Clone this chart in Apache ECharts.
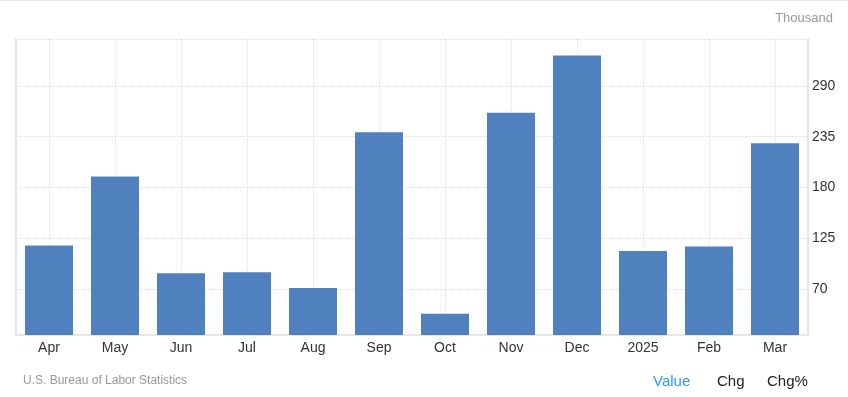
<!DOCTYPE html>
<html>
<head>
<meta charset="utf-8">
<script src="https://cdn.jsdelivr.net/npm/echarts@6/dist/echarts.min.js"></script>
<style>
    html, body { margin: 0; padding: 0; background: #fff; }
    #main { width: 848px; height: 397px; }
</style>
</head>
<body>
<div id="main"></div>
<script>
// months (Apr 2024 - Mar 2025), values in thousand
var months = ['Apr', 'May', 'Jun', 'Jul', 'Aug', 'Sep', 'Oct', 'Nov', 'Dec', '2025', 'Feb', 'Mar'];
var payrolls = [117, 192, 87, 88, 71, 240, 43, 261, 323, 111, 116, 228];
var yTicks = [70, 125, 180, 235, 290];
var yMin = 20;
var yMax = 341;

var font = '"Liberation Sans", Arial, sans-serif';
var chart = echarts.init(document.getElementById('main'));

chart.setOption({
    animation: false,
    grid: {
        left: 16,
        right: 40,
        top: 39,
        bottom: 62
    },
    xAxis: {
        type: 'category',
        data: months,
        axisLine: { lineStyle: { color: '#e6e6e6', width: 2 } },
        axisTick: { show: false },
        axisLabel: { color: '#333', fontSize: 14, fontFamily: font, margin: 6 },
        splitLine: {
            show: true,
            alignWithLabel: true,
            interval: 0,
            lineStyle: { type: 'dotted', color: '#dedede' }
        }
    },
    yAxis: [{
        type: 'value',
        position: 'right',
        min: yMin,
        max: yMax,
        axisLine: { show: true, lineStyle: { color: '#e6e6e6', width: 2 } },
        axisTick: { show: false, customValues: yTicks.concat([yMax]) },
        axisLabel: {
            color: '#333',
            fontSize: 14,
            fontFamily: font,
            margin: 4,
            customValues: yTicks
        },
        splitLine: { lineStyle: { type: 'dotted', color: '#dedede' } }
    }, {
        // just the plain line on the left edge
        type: 'value',
        position: 'left',
        min: yMin,
        max: yMax,
        axisLine: { show: true, lineStyle: { color: '#e6e6e6', width: 2 } },
        axisTick: { show: false },
        axisLabel: { show: false },
        splitLine: { show: false }
    }],
    series: [{
        type: 'bar',
        data: payrolls,
        barWidth: 48,
        itemStyle: { color: '#4e81bd' }
    }],
    graphic: [
        {
            type: 'line',
            shape: { x1: 0, y1: 0.5, x2: 848, y2: 0.5 },
            style: { stroke: '#e6e6e6', lineWidth: 1 }
        },
        {
            type: 'text', right: 15, top: 12,
            style: { text: 'Thousand', fill: '#999', font: '13px ' + font }
        },
        {
            type: 'text', left: 23, top: 375,
            style: { text: 'U.S. Bureau of Labor Statistics', fill: '#999', font: '12px ' + font }
        },
        {
            type: 'text', left: 653, top: 374,
            style: { text: 'Value', fill: '#2d9bf0', font: '15px ' + font }
        },
        {
            type: 'text', left: 717, top: 374,
            style: { text: 'Chg', fill: '#222', font: '15px ' + font }
        },
        {
            type: 'text', left: 767, top: 374,
            style: { text: 'Chg%', fill: '#222', font: '15px ' + font }
        }
    ]
});
</script>
</body>
</html>
